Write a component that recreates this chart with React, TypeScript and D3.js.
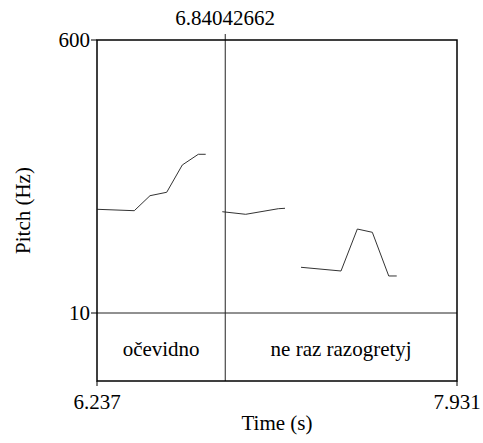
import React from "react";
import * as d3 from "d3";

const timeDomain = [6.237, 7.931];
const pitchDomain = [10, 600];
const cursorTime = 6.84042662;
const cursorLabel = "6.84042662";
const yTickLabels = ["10", "600"];
const xTickLabels = ["6.237", "7.931"];

const seg1Time = [6.2384, 6.4125, 6.4864, 6.565, 6.6384, 6.7137, 6.7485];
const seg1Hz = [234.1, 231.1, 263.5, 270.9, 329.9, 353, 353];
const seg2Time = [6.8266, 6.9367, 7.0902, 7.1217];
const seg2Hz = [228.9, 223.3, 235.4, 236.3];
const seg3Time = [7.197, 7.3852, 7.462, 7.5326, 7.6098, 7.6474];
const seg3Hz = [108.8, 100.8, 191.5, 184.4, 90, 90];

const intervalBounds = [6.237, 6.84042662, 7.931];
const intervalLabels = ["očevidno", "ne raz razogretyj"];

export default function App() {
  const W = 483, H = 443;
  const left = 97, right = 457, top = 40, pitchBottom = 313, bottom = 381;
  const x = d3.scaleLinear().domain(timeDomain).range([left, right]);
  const y = d3.scaleLinear().domain(pitchDomain).range([pitchBottom, top]);
  const line = d3.line<[number, number]>().x(d => x(d[0])).y(d => y(d[1]));
  const segs = [
    [seg1Time, seg1Hz],
    [seg2Time, seg2Hz],
    [seg3Time, seg3Hz],
  ].map(([t, h]) => t.map((v, i) => [v, h[i]] as [number, number]));
  const fs = 21;
  const ts = { fontFamily: '"Liberation Serif", "DejaVu Serif", serif', fontSize: fs };
  return (
    <svg width={W} height={H} style={{ position: "absolute", left: 0, top: 0 }}>
      <rect x={0} y={0} width={W} height={H} fill="white" />
      {segs.map((s, i) => (
        <path key={i} d={line(s) || ""} fill="none" stroke="#333" strokeWidth={1} />
      ))}
      <line x1={x(cursorTime)} x2={x(cursorTime)} y1={top - 6} y2={bottom} stroke="#222" strokeWidth={1} />
      <text x={x(cursorTime)} y={25} textAnchor="middle" style={ts}>{cursorLabel}</text>
      <line x1={left} x2={right} y1={pitchBottom} y2={pitchBottom} stroke="#222" strokeWidth={1} />
      <rect x={left} y={top} width={right - left} height={bottom - top} fill="none" stroke="black" strokeWidth={1.5} />
      {yTickLabels.map(l => (
        <g key={l}>
          <line x1={left - 6} x2={left} y1={y(+l)} y2={y(+l)} stroke="black" strokeWidth={1} />
          <text x={left - 7} y={y(+l)} dy="0.33em" textAnchor="end" style={ts}>{l}</text>
        </g>
      ))}
      {xTickLabels.map(l => (
        <g key={l}>
          <line x1={x(+l)} x2={x(+l)} y1={bottom} y2={bottom + 5} stroke="black" strokeWidth={1} />
          <text x={x(+l)} y={408.5} textAnchor="middle" style={ts}>{l}</text>
        </g>
      ))}
      {intervalLabels.map((l, i) => (
        <text key={l} x={(x(intervalBounds[i]) + x(intervalBounds[i + 1])) / 2} y={356} textAnchor="middle" style={ts}>{l}</text>
      ))}
      <text x={(left + right) / 2} y={430} textAnchor="middle" style={ts}>Time (s)</text>
      <text transform={`translate(29.5,${(top + bottom) / 2}) rotate(-90)`} textAnchor="middle" style={ts}>Pitch (Hz)</text>
    </svg>
  );
}
